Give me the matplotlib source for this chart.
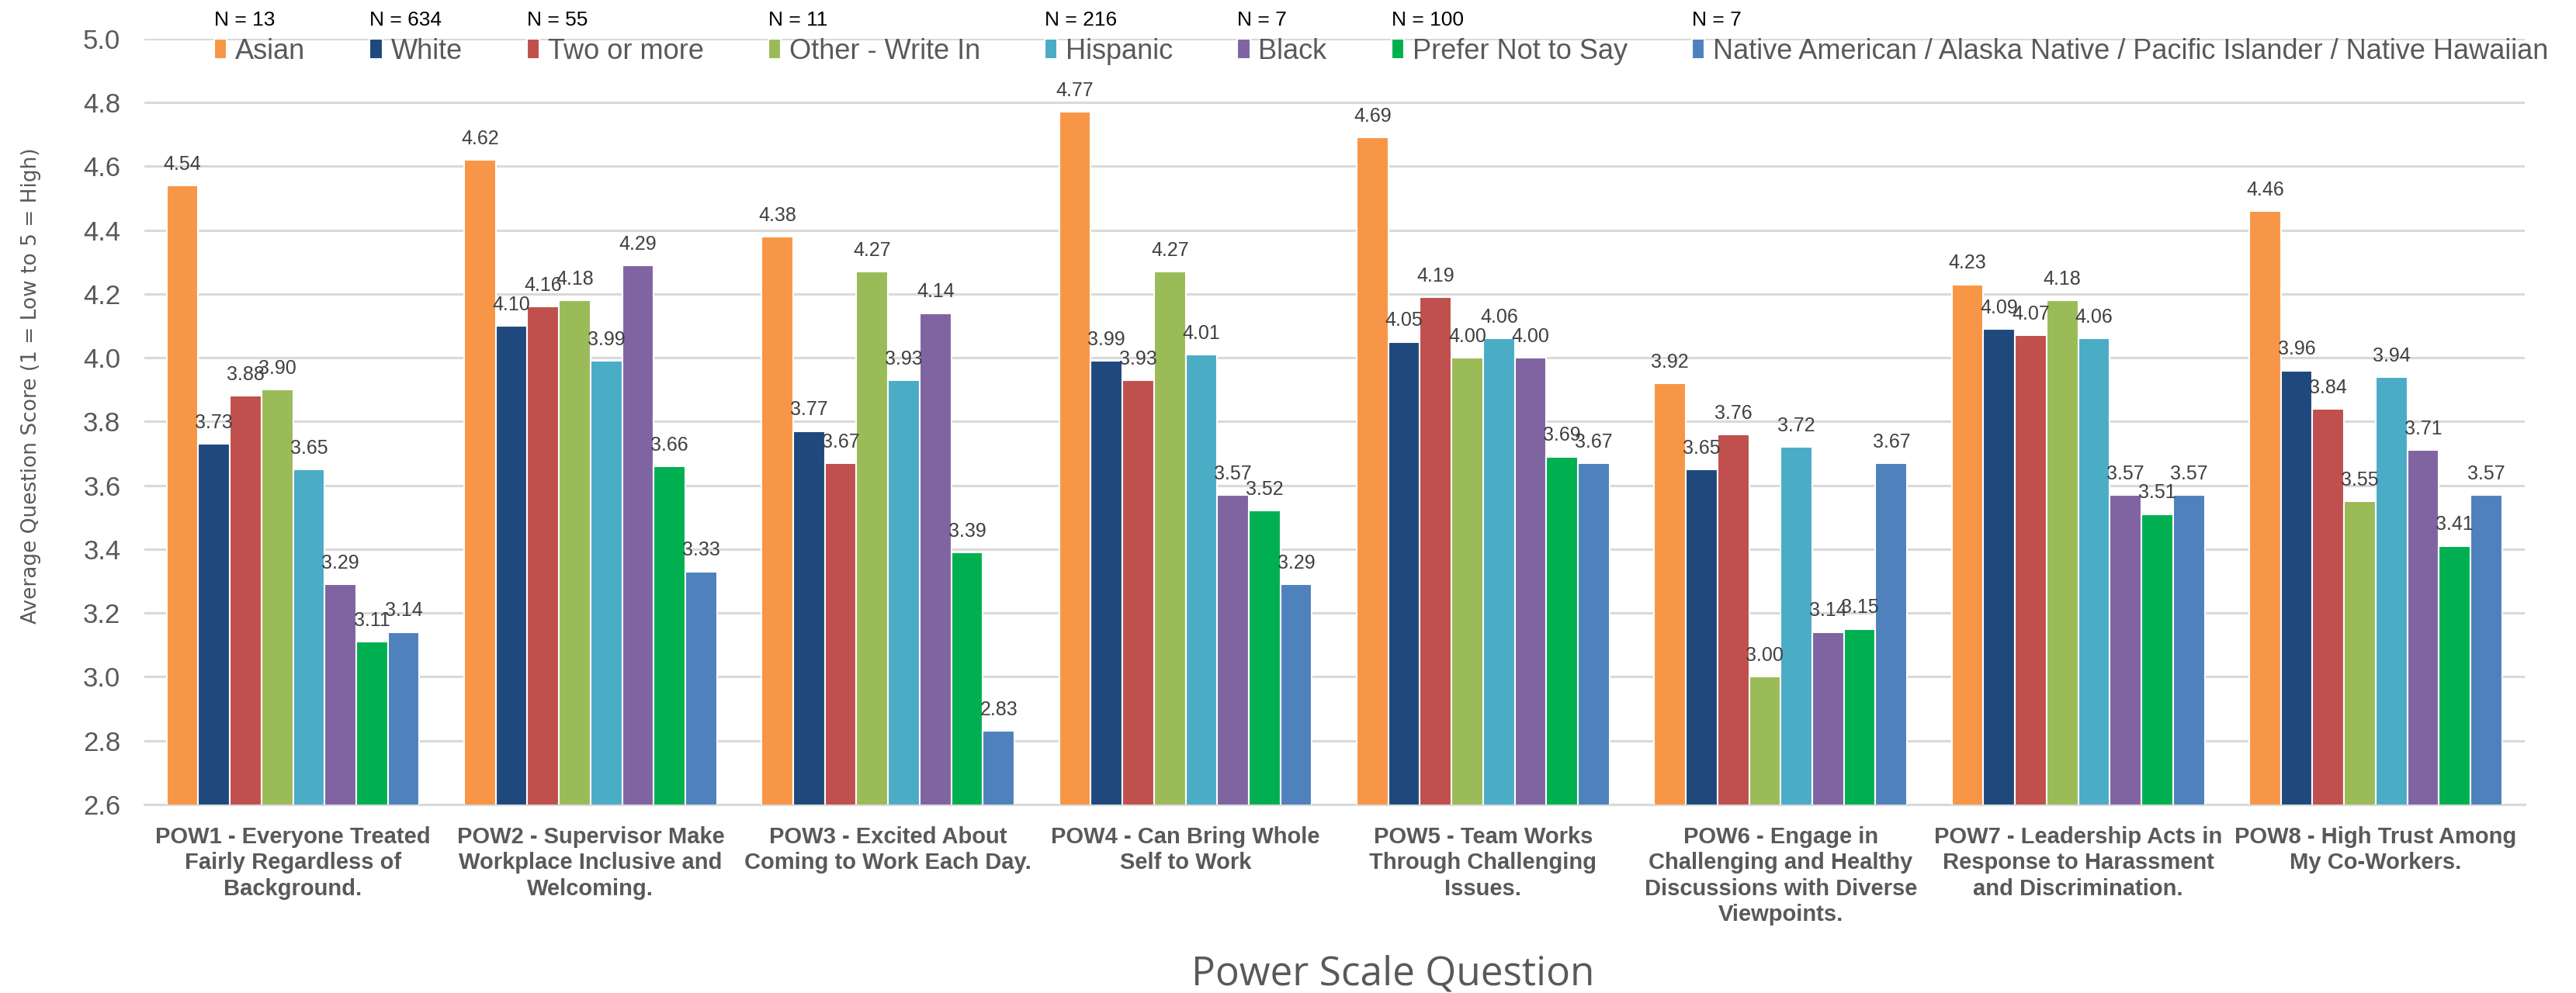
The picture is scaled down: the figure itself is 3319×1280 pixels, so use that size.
import numpy as np
import matplotlib
matplotlib.use('Agg')
import matplotlib.pyplot as plt

# Survey data: average POW score per race group
questions = ['POW1 - Everyone Treated\nFairly Regardless of\nBackground.',
	'POW2 - Supervisor Make\nWorkplace Inclusive and\nWelcoming.',
	'POW3 - Excited About\nComing to Work Each Day.',
	'POW4 - Can Bring Whole\nSelf to Work',
	'POW5 - Team Works\nThrough Challenging\nIssues.',
	'POW6 - Engage in\nChallenging and Healthy\nDiscussions with Diverse\nViewpoints.',
	'POW7 - Leadership Acts in\nResponse to Harassment\nand Discrimination.',
	'POW8 - High Trust Among\nMy Co-Workers.']

groups = ['Asian', 'White', 'Two or more', 'Other - Write In', 'Hispanic', 'Black',
	'Prefer Not to Say', 'Native American / Alaska Native / Pacific Islander / Native Hawaiian']
group_n = [13, 634, 55, 11, 216, 7, 100, 7]

asian    = [4.54, 4.62, 4.38, 4.77, 4.69, 3.92, 4.23, 4.46]
white    = [3.73, 4.10, 3.77, 3.99, 4.05, 3.65, 4.09, 3.96]
two_more = [3.88, 4.16, 3.67, 3.93, 4.19, 3.76, 4.07, 3.84]
other    = [3.90, 4.18, 4.27, 4.27, 4.00, 3.00, 4.18, 3.55]
hispanic = [3.65, 3.99, 3.93, 4.01, 4.06, 3.72, 4.06, 3.94]
black    = [3.29, 4.29, 4.14, 3.57, 4.00, 3.14, 3.57, 3.71]
prefer   = [3.11, 3.66, 3.39, 3.52, 3.69, 3.15, 3.51, 3.41]
native   = [3.14, 3.33, 2.83, 3.29, 3.67, 3.67, 3.57, 3.57]

series = [asian, white, two_more, other, hispanic, black, prefer, native]
colors = ['#F79646', '#1F497D', '#C0504D', '#9BBB59', '#4BACC6', '#8064A2', '#00B050', '#4F81BD']

GREY = '#595959'

fig = plt.figure(figsize=(33.19, 12.8), dpi=100)
ax = fig.add_axes([0.056, 0.190, 0.924, 0.771])

x = np.arange(len(questions))
width = 0.85 / len(series)
for i, (vals, col, name) in enumerate(zip(series, colors, groups)):
	pos = x - 0.425 + width * (i + 0.5)
	bars = ax.bar(pos, vals, width, color=col, edgecolor='white', linewidth=1.5, label=name, zorder=3)
	for b, v in zip(bars, vals):
		ax.annotate('%.2f' % v, (b.get_x() + b.get_width() / 2, v), xytext=(0, 11),
			textcoords='offset points', ha='center', va='bottom',
			fontsize=18, color='#404040', family='Liberation Sans', zorder=4)

ax.set_ylim(2.6, 5.0)
ax.set_xlim(-0.5, len(questions) - 0.5)
ax.set_yticks(np.arange(2.6, 5.01, 0.2))
ax.set_yticklabels(['%.1f' % t for t in np.arange(2.6, 5.01, 0.2)], fontsize=25,
	color=GREY, family='Liberation Sans')
ax.set_xticks(x)
ax.set_xticklabels(questions, fontsize=21, fontweight='bold', color=GREY,
	family='Liberation Sans', linespacing=1.25)
ax.tick_params(axis='both', length=0)
ax.tick_params(axis='x', pad=20)
ax.tick_params(axis='y', pad=22)
ax.grid(axis='y', color='#D9D9D9', linewidth=2.2, zorder=0)
for s in ['top', 'right', 'left']:
	ax.spines[s].set_visible(False)
ax.spines['bottom'].set_color('#D9D9D9')
ax.spines['bottom'].set_linewidth(2.2)

fig.text(40 / 3319, 1 - 497 / 1280, 'Average Question Score (1 = Low to 5 = High)',
	rotation=90, ha='center', va='center', fontsize=19, color=GREY, family='DejaVu Sans')
fig.text(1795 / 3319, 1 - 1256 / 1280, 'Power Scale Question', ha='center', va='center',
	fontsize=37, color=GREY, family='Open Sans')

leg = fig.legend(loc='center left', bbox_to_anchor=(258 / 3319, 1 - 66 / 1280), ncol=8,
	frameon=False, borderpad=0, handlelength=0.45, handleheight=0.75, handletextpad=0.3,
	columnspacing=2.3, prop={'family': 'Liberation Sans', 'size': 26})
for t in leg.get_texts():
	t.set_color(GREY)

# N labels sit above each legend marker
fig.canvas.draw()
r = fig.canvas.get_renderer()
inv = fig.transFigure.inverted()
for h, n in zip(leg.legend_handles, group_n):
	bb = h.get_window_extent(r)
	fx, _ = inv.transform((bb.x0, 0))
	fig.text(fx, 1 - 26 / 1280, 'N = %d' % n, ha='left', va='center', fontsize=19,
		color='black', family='Liberation Sans')

fig.savefig('out.png', dpi=100)
